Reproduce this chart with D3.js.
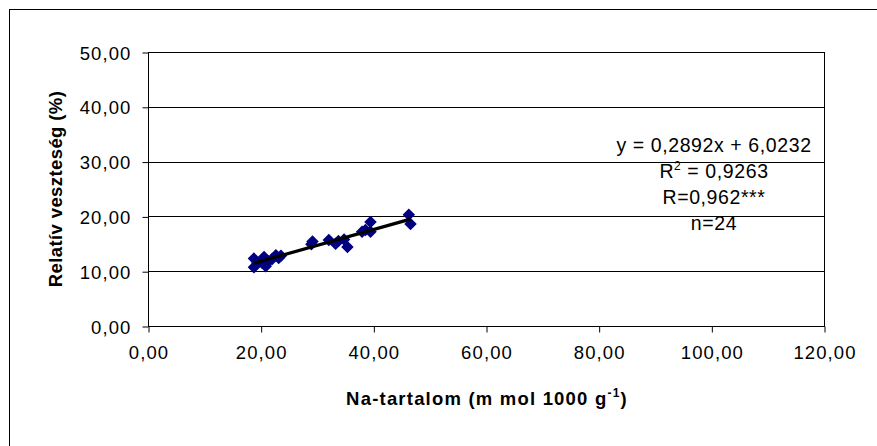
<!DOCTYPE html>
<html><head><meta charset="utf-8">
<script src="https://cdn.jsdelivr.net/npm/d3@7"></script>
<style>
html,body{margin:0;padding:0;background:#fff;}
svg{display:block;font-family:"Liberation Sans",Arial,sans-serif;}
</style></head>
<body><svg id="c" width="877" height="446"></svg>
<script>
// Data
const naContent = [18.8, 18.8, 19.4, 20.6, 20.9, 21.3, 22.0, 22.7, 23.6, 23.2, 29.2, 29.0, 32.1, 33.3, 33.8, 34.8, 35.4, 38.0, 38.6, 39.5, 39.5, 46.3, 46.6, 20.2];
const relLoss   = [12.3, 10.7, 11.5, 12.6, 10.9, 11.8, 12.2, 12.9, 12.8, 12.4, 15.4, 14.9, 15.7, 15.0, 15.5, 15.8, 14.4, 17.2, 17.5, 19.0, 17.2, 20.3, 18.6, 11.6];
const xTicks = [0, 20, 40, 60, 80, 100, 120];
const yTicks = [0, 10, 20, 30, 40, 50];
const slope = 0.2892, intercept = 6.0232;
const annotations = ["y = 0,2892x + 6,0232", "R2", "R=0,962***", "n=24"];
const yTitle = "Relatív veszteség (%)";
const xTitle = "Na-tartalom (m mol 1000 g";

const svg = d3.select("#c");
const loc = d3.formatLocale({decimal: ",", thousands: " ", grouping: [3], currency: ["", ""]});
const fmt = loc.format(".2f");

const x = d3.scaleLinear().domain([0, 120]).range([148, 824]);
const y = d3.scaleLinear().domain([0, 50]).range([326, 52]);

// outer chart border (cropped at right/bottom)
svg.append("rect").attr("x", 9.5).attr("y", 9.5).attr("width", 900).attr("height", 500)
  .attr("fill", "none").attr("stroke", "#000").attr("stroke-width", 1);

// gridlines
svg.append("g").selectAll("line").data(yTicks.filter(d => d > 0)).join("line")
  .attr("x1", x(0)).attr("x2", x(120))
  .attr("y1", d => Math.round(y(d)) + 0.5).attr("y2", d => Math.round(y(d)) + 0.5)
  .attr("stroke", "#000").attr("stroke-width", 1);

// plot border
svg.append("rect").attr("x", x(0) + 0.5).attr("y", y(50) + 0.5)
  .attr("width", x(120) - x(0)).attr("height", y(0) - y(50))
  .attr("fill", "none").attr("stroke", "#000");

const fs = 18.5;
// y axis
const gy = svg.append("g").attr("transform", `translate(${x(0) + 0.5},0.5)`)
  .call(d3.axisLeft(y).tickValues(yTicks).tickFormat(fmt).tickSize(6).tickPadding(11));
gy.select(".domain").remove();
gy.selectAll("line").attr("stroke", "#000");
gy.selectAll("text").attr("font-size", fs).attr("fill", "#000").attr("letter-spacing", 1.1).attr("dy", "0.36em");

// x axis
const gx = svg.append("g").attr("transform", `translate(0.5,${y(0) + 0.5})`)
  .call(d3.axisBottom(x).tickValues(xTicks).tickFormat(fmt).tickSize(6).tickPadding(13));
gx.select(".domain").remove();
gx.selectAll("line").attr("stroke", "#000");
gx.selectAll("text").attr("font-size", fs).attr("fill", "#000").attr("letter-spacing", 1.1);

// points
svg.append("g").selectAll("path").data(naContent.map((v, i) => [v, relLoss[i]])).join("path")
  .attr("d", d3.symbol(d3.symbolSquare, 78))
  .attr("transform", d => `translate(${x(d[0])},${y(d[1])}) rotate(45)`)
  .attr("fill", "#000080");

// trendline
const xMin = d3.min(naContent), xMax = d3.max(naContent);
svg.append("line")
  .attr("x1", x(xMin)).attr("y1", y(slope * xMin + intercept))
  .attr("x2", x(xMax)).attr("y2", y(slope * xMax + intercept))
  .attr("stroke", "#000").attr("stroke-width", 3.2).attr("stroke-linecap", "butt");

// annotation
const ann = svg.append("g").attr("font-size", 19.5).attr("text-anchor", "middle").attr("fill", "#000");
ann.append("text").attr("x", 714).attr("y", 152).attr("letter-spacing", 0.6).text(annotations[0]);
const r2 = ann.append("text").attr("x", 714).attr("y", 178).attr("letter-spacing", 0.6);
r2.append("tspan").text("R");
r2.append("tspan").attr("font-size", 12).attr("dy", -8).text("2");
r2.append("tspan").attr("dy", 8).text(" = 0,9263");
ann.append("text").attr("x", 714).attr("y", 204).attr("letter-spacing", 0.6).text(annotations[2]);
ann.append("text").attr("x", 714).attr("y", 230).attr("letter-spacing", 0.6).text(annotations[3]);

// axis titles
svg.append("text").attr("transform", `translate(62,189) rotate(-90)`)
  .attr("text-anchor", "middle").attr("font-size", 18.5).attr("font-weight", "bold")
  .attr("letter-spacing", 0.4)
  .text(yTitle);
const xt = svg.append("text").attr("x", 487).attr("y", 405)
  .attr("text-anchor", "middle").attr("font-size", 18.5).attr("font-weight", "bold")
  .attr("letter-spacing", 1.2);
xt.append("tspan").text(xTitle);
xt.append("tspan").attr("font-size", 12).attr("dy", -8).text("-1");
xt.append("tspan").attr("dy", 8).text(")");
</script></body></html>
